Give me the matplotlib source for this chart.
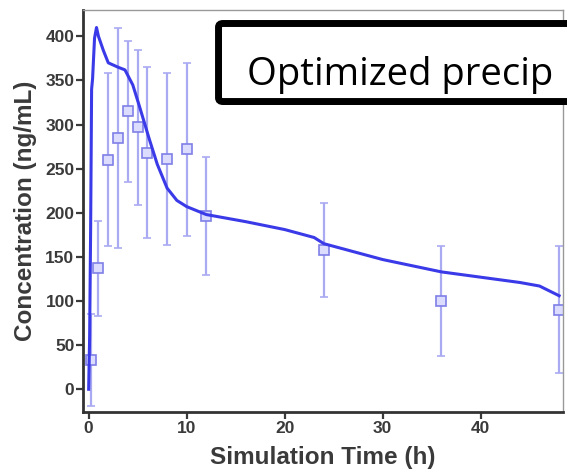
import matplotlib
matplotlib.use("Agg")
import matplotlib.pyplot as plt
from matplotlib.patches import FancyBboxPatch

# observed concentrations (mean +/- sd)
obs_time = [0.25, 1, 2, 3, 4, 5, 6, 8, 10, 12, 24, 36, 48]
obs_conc = [33, 137, 260, 285, 315, 297, 268, 261, 272, 196, 158, 100, 90]
obs_sd = [52, 54, 98, 125, 80, 88, 97, 97, 98, 67, 53, 62, 72]

# simulated profile
sim_time = [0, 0.1, 0.2, 0.3, 0.4, 0.6, 0.8, 1.0, 1.5, 2, 3, 3.7, 4.5, 5.2,
            6.2, 7, 8, 9, 10, 12, 16, 20, 23, 24, 27, 30, 33, 36, 40, 44, 46, 48]
sim_conc = [0, 60, 180, 340, 352, 398, 410, 400, 384, 370, 365, 362, 345, 320,
            283, 255, 228, 214, 207, 198, 190, 181, 172, 165, 156, 147, 140,
            133, 127, 121, 117, 106]

x_ticks = [0, 10, 20, 30, 40]
y_ticks = [0, 50, 100, 150, 200, 250, 300, 350, 400]

fig = plt.figure(figsize=(5.67, 4.70), dpi=100)
ax = fig.add_axes([0.146, 0.123, 0.847, 0.856])

ax.errorbar(obs_time, obs_conc, yerr=obs_sd, fmt="s", ms=6.5,
            mfc="#dcdcff", mec="#7f7fe8", mew=1.2,
            ecolor="#aaaaf2", elinewidth=1.6, capsize=3, capthick=1.2, zorder=2)
ax.plot(sim_time, sim_conc, color="#3a3ae8", lw=2.2, zorder=3)

ax.set_xlim(-0.6, 48.4)
ax.set_ylim(-26, 430)
ax.set_xticks(x_ticks)
ax.set_yticks(y_ticks)

tick_font = dict(family="Liberation Sans", weight="bold", size=12.5)
ax.set_xticklabels([str(t) for t in x_ticks], fontdict=tick_font, color="#3a3a3a")
ax.set_yticklabels([str(t) for t in y_ticks], fontdict=tick_font, color="#3a3a3a")
ax.tick_params(direction="out", length=5, width=1.6, color="#3a3a3a", pad=1)

ax.set_xlabel("Simulation Time (h)", family="Liberation Sans", weight="bold",
              size=17.5, color="#3a3a3a")
ax.set_ylabel("Concentration (ng/mL)", family="Liberation Sans", weight="bold",
              size=17.5, color="#3a3a3a")
ax.xaxis.set_label_coords(0.5, -0.085)
ax.yaxis.set_label_coords(-0.095, 0.5)

for side in ["left", "bottom"]:
    ax.spines[side].set_linewidth(2)
    ax.spines[side].set_color("#333333")
for side in ["top", "right"]:
    ax.spines[side].set_linewidth(1)
    ax.spines[side].set_color("#999999")

# label box, running off the right edge as in the source
box = FancyBboxPatch((0.3854, 0.784), 0.7, 0.166, transform=fig.transFigure,
                     boxstyle="round,pad=0,rounding_size=0.008",
                     fc="white", ec="black", lw=5, zorder=5)
fig.add_artist(box)
fig.text(0.4356, 0.819, "Optimized precip", family="Open Sans", size=27.5,
         color="black", ha="left", va="baseline", zorder=6)

fig.savefig("out.png", dpi=100)
